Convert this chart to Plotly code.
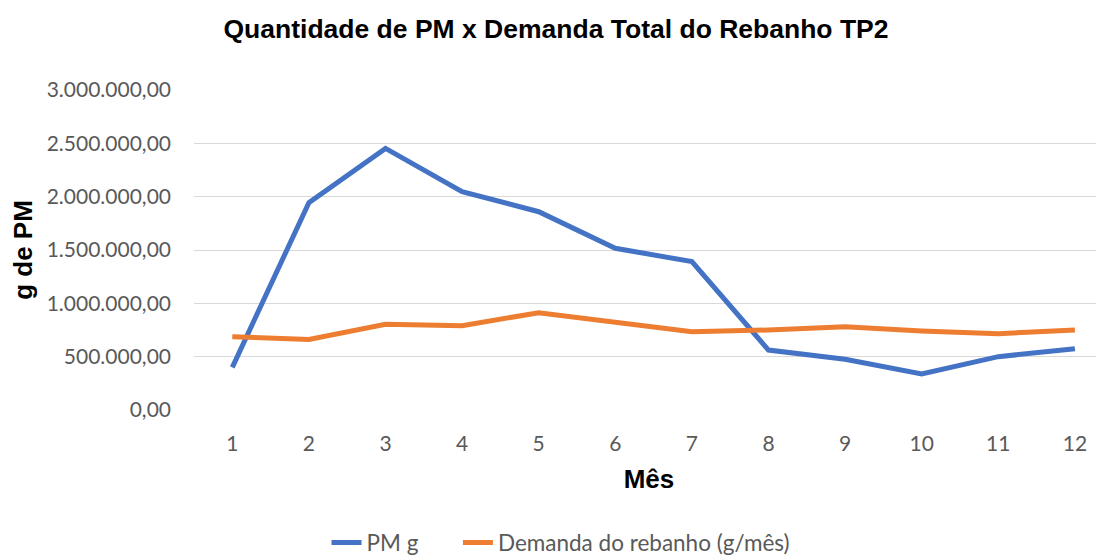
import plotly.graph_objects as go

# chart data
meses = list(range(1, 13))
pm_g = [400000, 1944000, 2453000, 2047000, 1859000, 1516000,
        1391000, 562000, 475000, 337000, 500000, 575000]
demanda = [687000, 662000, 803000, 791000, 912000, 819000,
           734000, 750000, 781000, 741000, 716000, 750000]
y_ticks = [0, 500000, 1000000, 1500000, 2000000, 2500000, 3000000]

BLUE = "#4472C4"
ORANGE = "#ED7D31"
GRID = "#D9D9D9"
TICK_FONT = dict(family="Lato, Carlito, Calibri, sans-serif", size=21, color="#595959")
BOLD_FONT = "Liberation Sans, Arial, sans-serif"

# the page puts the figure 8px in from the top-left corner, so size it down
W, H = 1096, 552

fig = go.Figure()

fig.add_trace(go.Scatter(
    x=meses, y=pm_g, mode="lines", name="PM g&nbsp;&nbsp;&nbsp;&nbsp;&nbsp;&nbsp;",
    line=dict(color=BLUE, width=5)))
fig.add_trace(go.Scatter(
    x=meses, y=demanda, mode="lines", name="Demanda do rebanho (g/mês)",
    line=dict(color=ORANGE, width=5)))

fig.update_layout(
    width=W, height=H,
    margin=dict(l=186, r=0, t=82, b=150, autoexpand=False),
    paper_bgcolor="white", plot_bgcolor="white",
    separators=",.",
    title=dict(
        text="<b>Quantidade de PM x Demanda Total do Rebanho TP2</b>",
        x=548 / W, xref="container", xanchor="center",
        y=1 - 21 / H, yref="container", yanchor="middle",
        font=dict(family=BOLD_FONT, size=26.5, color="black")),
    showlegend=True,
    legend=dict(
        orientation="h", xref="container", yref="paper",
        x=553 / W, xanchor="center", y=-0.415, yanchor="middle",
        font=dict(family=TICK_FONT["family"], size=22.5, color="#595959"),
        tracegroupgap=0),
)

fig.update_xaxes(
    range=[0.5, 12.38], tickmode="array", tickvals=meses,
    ticks="", showgrid=False, zeroline=False, showline=False,
    tickfont=TICK_FONT, ticklabelstandoff=19, automargin=False,
    title=dict(text="<b>Mês</b>", standoff=15,
               font=dict(family=BOLD_FONT, size=26, color="black")))

fig.update_yaxes(
    range=[0, 3000000], tickmode="array", tickvals=y_ticks,
    tickformat=",.2f", showgrid=True, gridcolor=GRID, gridwidth=1.3,
    zeroline=False, showline=False, ticks="",
    tickfont=TICK_FONT, ticklabelstandoff=22, automargin=False,
    title=dict(text="<b>g de PM</b>", standoff=10,
               font=dict(family=BOLD_FONT, size=26, color="black")))

fig.write_html("out.html")
